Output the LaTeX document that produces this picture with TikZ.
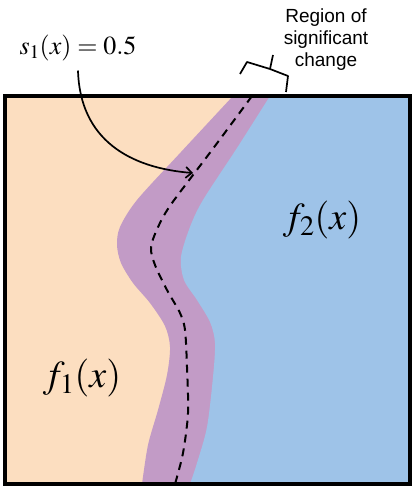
\documentclass[tikz,border=0pt]{standalone}
\usepackage{mathptmx}
\usepackage[no-math]{fontspec}
\setsansfont{Liberation Sans}
\usepackage{tikz}
\usetikzlibrary{arrows.meta,calc}
\definecolor{peach}{RGB}{252,222,192}
\definecolor{mauve}{RGB}{194,155,198}
\definecolor{skyblue}{RGB}{158,195,232}
\tikzset{
  mathlabel/.style={font=\fontsize{38}{38}\selectfont},
  boundary/.style={black, line width=2pt, dash pattern=on 8pt off 6pt},
  thinline/.style={black, line width=1.7pt}
}

\begin{document}
\begin{tikzpicture}[x=1pt,y=-1pt]
\useasboundingbox (0,0) rectangle (415,502);

\fill[peach] (5,96) rectangle (410,484);
\fill[mauve] plot[smooth] coordinates {(233,96) (181,152) (137,200) (120,227) (117,245) (121,263) (133,283) (150,303) (165,326) (170,347) (167,375) (158,410) (148,445) (142,484)}
    -- (410,484) -- (410,96) -- cycle;
\fill[skyblue] plot[smooth] coordinates {(270,96) (237,148) (203,200) (190,227) (181,257) (184,280) (197,300) (210,322) (215,343) (213,377) (207,427) (197,463) (190,484)}
    -- (410,484) -- (410,96) -- cycle;
\draw[boundary] plot[smooth] coordinates {(252,96) (212,150) (172,203) (159,225) (151,247) (155,265) (167,290) (180,313) (185,330) (187,367) (188,413) (183,453) (175,484)};

\draw[line width=4.5pt] (5,96) rectangle (410,484);

\node[mathlabel, font=\fontsize{26}{26}\selectfont] (slabel) at (78,48) {$s_1(x) = 0.5$};
\node[mathlabel] (ftwo) at (322,220) {$f_2(x)$};
\node[mathlabel] (fone) at (82,378) {$f_1(x)$};
\node[align=center, font=\sffamily\fontsize{19}{22}\selectfont] (region) at (326,40) {Region of\\significant\\change};

\coordinate (cross) at (193,173);
\draw[thinline, -{Straight Barb[length=6pt,width=11pt]}] ([yshift=-6pt]slabel.south) .. controls (80,140) and (130,168) .. (cross);

\draw[thinline, line join=round] (240,74) -- (247,62) -- (270,69) -- (288,76) -- (286,92);
\draw[thinline] (270,69) -- (273,55);

\end{tikzpicture}
\end{document}
